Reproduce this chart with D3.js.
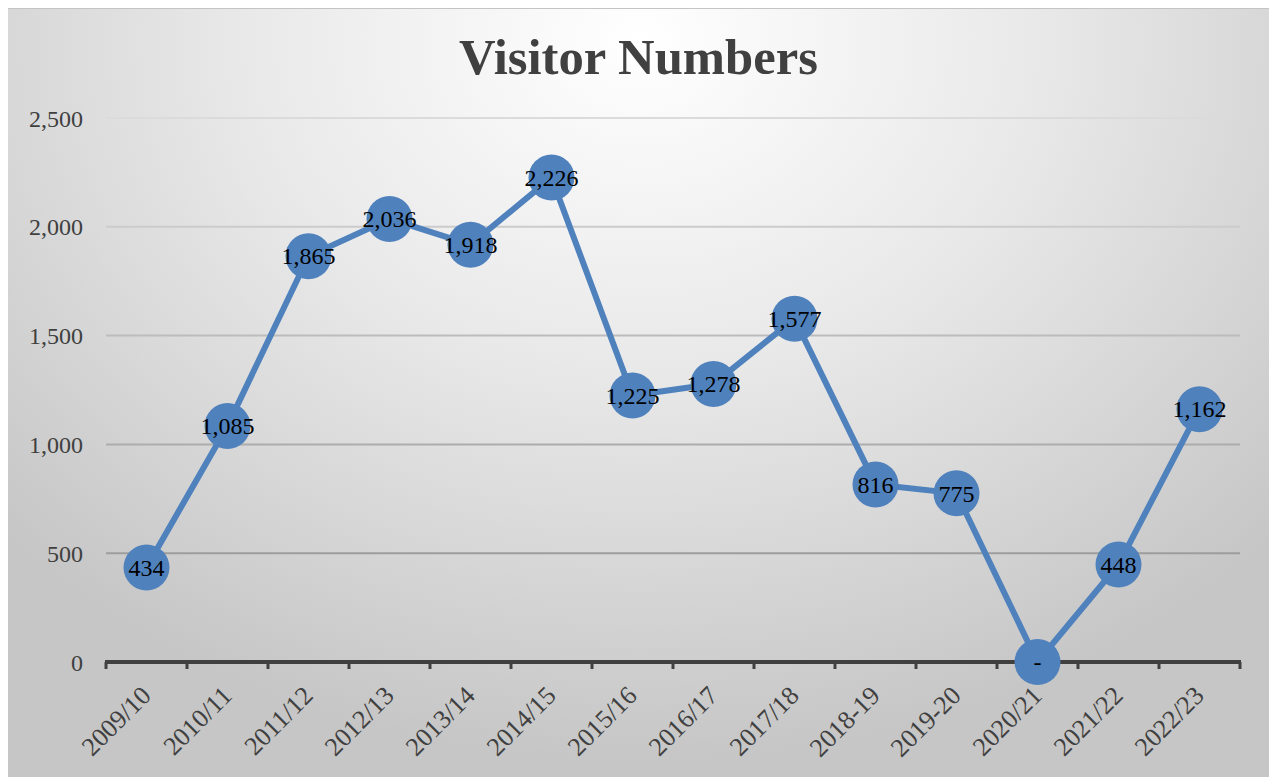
<!DOCTYPE html>
<html>
<head>
<meta charset="utf-8">
<script src="https://cdn.jsdelivr.net/npm/d3@7"></script>
<style>
  html, body { margin: 0; padding: 0; background: #ffffff; }
  svg { display: block; }
</style>
</head>
<body>
<svg id="chart" width="1272" height="777"></svg>
<script>
const categories = ["2009/10","2010/11","2011/12","2012/13","2013/14","2014/15","2015/16","2016/17","2017/18","2018-19","2019-20","2020/21","2021/22","2022/23"];
const visitors = [434, 1085, 1865, 2036, 1918, 2226, 1225, 1278, 1577, 816, 775, 0, 448, 1162];
const yTicks = [0, 500, 1000, 1500, 2000, 2500];
const chartTitle = "Visitor Numbers";

const W = 1272, H = 777;
const svg = d3.select("#chart");
const defs = svg.append("defs");

const bg = defs.append("radialGradient").attr("id", "bg")
  .attr("gradientUnits", "userSpaceOnUse")
  .attr("cx", 640).attr("cy", 40).attr("r", 760)
  .attr("gradientTransform", "translate(640,40) scale(1.15,0.95) translate(-640,-40)");
bg.append("stop").attr("offset", "0").attr("stop-color", "#ffffff");
bg.append("stop").attr("offset", "0.45").attr("stop-color", "#e9e9e9");
bg.append("stop").attr("offset", "1").attr("stop-color", "#c6c6c6");

const gridGrad = defs.append("linearGradient").attr("id", "gridGrad")
  .attr("gradientUnits", "userSpaceOnUse")
  .attr("x1", 0).attr("y1", 110).attr("x2", 0).attr("y2", 560);
gridGrad.append("stop").attr("offset", "0").attr("stop-color", "#dcdcdc");
gridGrad.append("stop").attr("offset", "1").attr("stop-color", "#9c9c9c");

// chart area
svg.append("rect").attr("x", 8).attr("y", 8).attr("width", 1261).attr("height", 769)
  .attr("fill", "url(#bg)");
svg.append("line").attr("x1", 8).attr("x2", 1269).attr("y1", 8.5).attr("y2", 8.5)
  .attr("stroke", "#c4c4c4").attr("stroke-width", 1);

const margin = { left: 106, right: 1240, top: 118, bottom: 662 };

const x = d3.scaleBand().domain(categories).range([margin.left, margin.right]).paddingInner(0).paddingOuter(0);
const y = d3.scaleLinear().domain([0, 2500]).range([margin.bottom, margin.top]);

const serif = "'Liberation Serif', 'DejaVu Serif', serif";

// title
const title = svg.append("text").text(chartTitle)
  .attr("x", 638.5).attr("y", 74)
  .attr("text-anchor", "middle")
  .attr("font-family", serif).attr("font-weight", "bold")
  .attr("font-size", 48).attr("fill", "#404040");
const tw = title.node().getComputedTextLength();
title.attr("font-size", 48 * 359 / tw);

// gridlines
svg.append("g").selectAll("line").data(yTicks.filter(d => d > 0)).join("line")
  .attr("x1", margin.left).attr("x2", margin.right)
  .attr("y1", d => y(d)).attr("y2", d => y(d))
  .attr("stroke", "url(#gridGrad)").attr("stroke-width", 2);

// y axis labels
const yAxis = d3.axisLeft(y).tickValues(yTicks).tickSize(0).tickPadding(0)
  .tickFormat(d => d === 0 ? "0" : d3.format(",")(d));
const yg = svg.append("g").attr("transform", `translate(83,0)`).call(yAxis);
yg.select(".domain").remove();
yg.selectAll("text").attr("font-family", serif).attr("font-size", 24)
  .attr("fill", "#404040").attr("dy", "0.34em");

// x axis
const xAxis = d3.axisBottom(x).tickSize(0).tickPadding(0);
const xg = svg.append("g").attr("transform", `translate(0,${margin.bottom})`).call(xAxis);
xg.select(".domain").remove();
xg.selectAll(".tick text")
  .attr("font-family", serif).attr("font-size", 26).attr("fill", "#404040")
  .attr("text-anchor", "end")
  .attr("x", 0).attr("y", 0).attr("dy", 0)
  .attr("transform", "translate(6,35) rotate(-45)");

// axis line and tick marks at category boundaries
const boundaries = d3.range(categories.length + 1).map(i => margin.left + i * x.bandwidth());
svg.append("g").selectAll("line").data(boundaries).join("line")
  .attr("x1", d => d).attr("x2", d => d)
  .attr("y1", margin.bottom).attr("y2", margin.bottom + 7)
  .attr("stroke", "#404040").attr("stroke-width", 3);
svg.append("line").attr("x1", margin.left - 1).attr("x2", margin.right + 1)
  .attr("y1", margin.bottom).attr("y2", margin.bottom)
  .attr("stroke", "#404040").attr("stroke-width", 4);

// series line
const pts = categories.map((c, i) => ({ c, v: visitors[i] }));
const line = d3.line().x(d => x(d.c) + x.bandwidth() / 2).y(d => y(d.v));
svg.append("path").datum(pts).attr("d", line)
  .attr("fill", "none").attr("stroke", "#4f81bd").attr("stroke-width", 6)
  .attr("stroke-linejoin", "round");

// markers
svg.append("g").selectAll("circle").data(pts).join("circle")
  .attr("cx", d => x(d.c) + x.bandwidth() / 2).attr("cy", d => y(d.v))
  .attr("r", 23).attr("fill", "#4f81bd");

// data labels
svg.append("g").selectAll("text").data(pts).join("text")
  .attr("x", d => x(d.c) + x.bandwidth() / 2).attr("y", d => y(d.v))
  .attr("dy", "0.34em").attr("text-anchor", "middle")
  .attr("font-family", serif).attr("font-size", 24).attr("fill", "#000000")
  .text(d => d.v === 0 ? "-" : d3.format(",")(d.v));
</script>
</body>
</html>
